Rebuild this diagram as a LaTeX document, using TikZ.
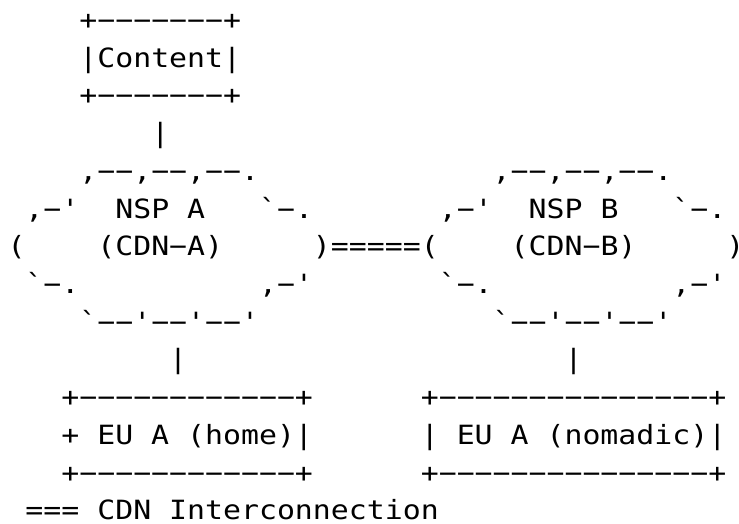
\documentclass[tikz,border=0pt]{standalone}
\usepackage{fontspec}
\newfontfamily\asciifont{DejaVu Sans Mono}[FakeStretch=1.1263]
\tikzset{
  asciitxt/.style={anchor=base west, inner sep=0pt, outer sep=0pt,
    font=\asciifont\fontsize{26.5pt}{37.7pt}\selectfont, text=black}
}
\newcommand\seg[5][]{\node[asciitxt,#1] (#2) at ({7.5pt + #3*17.97pt}, {-29.6pt - (#4-1)*37.7pt}) {#5};}
\begin{document}
\begin{tikzpicture}
\useasboundingbox[fill=white] (0,0) rectangle (739pt,-524pt);
% Content box
\seg{ca}{4}{1}{+−−−−−−−+}
\seg{cb}{4}{2}{|Content|}
\seg{cc}{4}{3}{+−−−−−−−+}
\seg{cl}{8}{4}{|}
% clouds
\seg{a1}{4}{5}{,−−,−−,−−.}
\seg{b1}{27}{5}{,−−,−−,−−.}
\seg{a2l}{1}{6}{,−'}
\seg{a2t}{6}{6}{NSP A}
\seg{a2r}{14}{6}{`−.}
\seg{b2l}{24}{6}{,−'}
\seg{b2t}{29}{6}{NSP B}
\seg{b2r}{37}{6}{`−.}
\seg{a3l}{0}{7}{(}
\seg{a3t}{5}{7}{(CDN−A)}
\seg{link}{17}{7}{)=====(}
\seg{b3t}{28}{7}{(CDN−B)}
\seg{b3r}{40}{7}{\makebox[12pt][l]{)}}
\seg{a4l}{1}{8}{`−.}
\seg{a4r}{14}{8}{,−'}
\seg{b4l}{24}{8}{`−.}
\seg{b4r}{37}{8}{,−'}
\seg{a5}{4}{9}{`−−'−−'−−'}
\seg{b5}{27}{9}{`−−'−−'−−'}
\seg{al}{9}{10}{|}
\seg{bl}{31}{10}{|}
% end user boxes
\seg{ha}{3}{11}{+−−−−−−−−−−−−+}
\seg{hb}{3}{12}{+ EU A (home)|}
\seg{hc}{3}{13}{+−−−−−−−−−−−−+}
\seg{na}{23}{11}{+−−−−−−−−−−−−−−−+}
\seg{nb}{23}{12}{| EU A (nomadic)|}
\seg{nc}{23}{13}{+−−−−−−−−−−−−−−−+}
% legend
\seg[text depth=0pt]{leg}{1}{14}{=== CDN Interconnection}
\end{tikzpicture}
\end{document}
